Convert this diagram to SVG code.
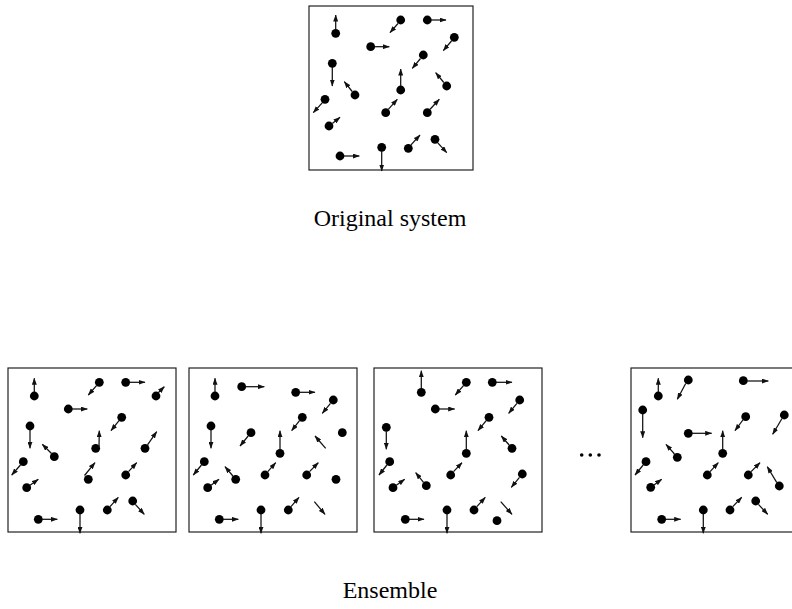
<svg xmlns="http://www.w3.org/2000/svg" width="792" height="609" viewBox="0 0 792 609">
<style>
.box{fill:none;stroke:#222;stroke-width:1.2}
.p{fill:#000}
.v{stroke:#111;stroke-width:1.25;fill:none;marker-end:url(#ah)}
.cap{font-family:"Liberation Serif","Times New Roman",serif;font-size:24px;fill:#000;text-anchor:middle}
</style>
<defs>
<marker id="ah" viewBox="0 0 7 5" markerWidth="7" markerHeight="5" refX="6.5" refY="2.5" orient="auto" markerUnits="userSpaceOnUse">
<path d="M0,0 L7,2.5 L0,5 z" fill="#111"/>
</marker>
</defs>
<rect width="792" height="609" fill="#fff"/>

<g id="original">
<rect class="box" x="309" y="6" width="164" height="164"/>
<g class="particles">
<circle class="p" cx="335.7" cy="33.3" r="4.4"/><line class="v" x1="335.7" y1="29" x2="335.7" y2="15"/>
<circle class="p" cx="400.7" cy="20" r="4.4"/><line class="v" x1="398" y1="23.5" x2="390" y2="32.7"/>
<circle class="p" cx="427.3" cy="20" r="4.4"/><line class="v" x1="431" y1="20" x2="446" y2="20"/>
<circle class="p" cx="454.3" cy="37.3" r="4.4"/><line class="v" x1="451.5" y1="41" x2="443.3" y2="50.7"/>
<circle class="p" cx="370.7" cy="46.7" r="4.4"/><line class="v" x1="374.5" y1="46.7" x2="389.3" y2="46.7"/>
<circle class="p" cx="423.3" cy="55" r="4.4"/><line class="v" x1="420.5" y1="58.5" x2="412.3" y2="68.3"/>
<circle class="p" cx="332.3" cy="63.3" r="4.4"/><line class="v" x1="332.3" y1="67" x2="332.3" y2="86"/>
<circle class="p" cx="400.7" cy="90" r="4.4"/><line class="v" x1="400.7" y1="86" x2="400.7" y2="69"/>
<circle class="p" cx="446.7" cy="86" r="4.4"/><line class="v" x1="443.8" y1="82.5" x2="435.7" y2="72.7"/>
<circle class="p" cx="355" cy="95" r="4.4"/><line class="v" x1="352.2" y1="91.5" x2="344.3" y2="81.7"/>
<circle class="p" cx="325" cy="99.3" r="4.4"/><line class="v" x1="322.2" y1="102.8" x2="313.3" y2="112.7"/>
<circle class="p" cx="385.7" cy="112.7" r="4.4"/><line class="v" x1="388.5" y1="109.2" x2="397.3" y2="99.3"/>
<circle class="p" cx="427.3" cy="112.7" r="4.4"/><line class="v" x1="430.1" y1="109.2" x2="439.3" y2="99.3"/>
<circle class="p" cx="329" cy="126" r="4.4"/><line class="v" x1="332.3" y1="123.5" x2="340" y2="117.3"/>
<circle class="p" cx="435" cy="139.3" r="4.4"/><line class="v" x1="437.8" y1="142.8" x2="446.7" y2="152.7"/>
<circle class="p" cx="408.3" cy="148.3" r="4.4"/><line class="v" x1="411" y1="144.8" x2="420" y2="135"/>
<circle class="p" cx="340" cy="156" r="4.4"/><line class="v" x1="344" y1="156" x2="359.3" y2="156"/>
<circle class="p" cx="381.7" cy="147.3" r="4.4"/><line class="v" x1="381.7" y1="151" x2="381.7" y2="171"/>
</g>
</g>
<text id="label-original" class="cap" x="390" y="226">Original system</text>

<g id="ensemble-1">
<rect class="box" x="8" y="368" width="168" height="164"/>
<g class="particles">
<circle class="p" cx="34.3" cy="396" r="4.4"/><line class="v" x1="34.3" y1="392" x2="34.3" y2="378.3"/>
<circle class="p" cx="99.3" cy="382.3" r="4.4"/><line class="v" x1="96.5" y1="385.7" x2="88.3" y2="395"/>
<circle class="p" cx="125.7" cy="382.3" r="4.4"/><line class="v" x1="129.5" y1="382.3" x2="145" y2="382.3"/>
<circle class="p" cx="156" cy="396" r="4.4"/><line class="v" x1="158" y1="393" x2="164.3" y2="386.7"/>
<circle class="p" cx="68.3" cy="409" r="4.4"/><line class="v" x1="72" y1="409" x2="87.3" y2="409"/>
<circle class="p" cx="121.7" cy="417.3" r="4.4"/><line class="v" x1="119" y1="420.7" x2="111" y2="430.7"/>
<circle class="p" cx="30" cy="426" r="4.4"/><line class="v" x1="30" y1="430" x2="30" y2="448.3"/>
<circle class="p" cx="95.7" cy="448.3" r="4.4"/><line class="v" x1="99" y1="448" x2="99.3" y2="430.7"/>
<circle class="p" cx="145" cy="448.3" r="4.4"/><line class="v" x1="147.5" y1="444.8" x2="156.7" y2="431.7"/>
<circle class="p" cx="54.3" cy="456.7" r="4.4"/><line class="v" x1="51.5" y1="453.5" x2="42.3" y2="444.3"/>
<circle class="p" cx="23.3" cy="461.7" r="4.4"/><line class="v" x1="20.5" y1="465" x2="11.7" y2="475"/>
<circle class="p" cx="88.3" cy="479.3" r="4.4"/><line class="v" x1="84.5" y1="475.5" x2="95" y2="462.7"/>
<circle class="p" cx="125.7" cy="475" r="4.4"/><line class="v" x1="128.5" y1="471.6" x2="136.7" y2="462.7"/>
<circle class="p" cx="26.7" cy="487.7" r="4.4"/><line class="v" x1="30" y1="485.3" x2="38.3" y2="479.3"/>
<circle class="p" cx="132.7" cy="501" r="4.4"/><line class="v" x1="135.3" y1="504.3" x2="144.3" y2="514.3"/>
<circle class="p" cx="107.3" cy="510" r="4.4"/><line class="v" x1="110" y1="506.6" x2="118.3" y2="497.3"/>
<circle class="p" cx="38.3" cy="519.3" r="4.4"/><line class="v" x1="42" y1="519.3" x2="57.3" y2="519.3"/>
<circle class="p" cx="80" cy="510" r="4.4"/><line class="v" x1="80" y1="514" x2="80" y2="533.3"/>
</g>
</g>

<g id="ensemble-2">
<rect class="box" x="189" y="368" width="168" height="164"/>
<g class="particles">
<circle class="p" cx="215" cy="396" r="4.4"/><line class="v" x1="215" y1="392" x2="215" y2="378.3"/>
<circle class="p" cx="241.7" cy="386.7" r="4.4"/><line class="v" x1="245.5" y1="386.7" x2="264.3" y2="386.7"/>
<circle class="p" cx="295.7" cy="392.3" r="4.4"/><line class="v" x1="299.5" y1="392.3" x2="315" y2="392.3"/>
<circle class="p" cx="333.3" cy="400" r="4.4"/><line class="v" x1="330.5" y1="403.4" x2="322.3" y2="413.3"/>
<circle class="p" cx="302.3" cy="417.3" r="4.4"/><line class="v" x1="299.5" y1="420.7" x2="291.7" y2="430.7"/>
<circle class="p" cx="211" cy="426" r="4.4"/><line class="v" x1="211" y1="430" x2="211" y2="448.3"/>
<circle class="p" cx="251" cy="432.7" r="4.4"/><line class="v" x1="248.2" y1="436" x2="240" y2="446"/>
<circle class="p" cx="342.3" cy="432.7" r="4.4"/>
<line class="v" x1="325.7" y1="448.3" x2="315" y2="436"/>
<circle class="p" cx="280" cy="453.3" r="4.4"/><line class="v" x1="280" y1="449.3" x2="280" y2="430.7"/>
<circle class="p" cx="204.3" cy="461.7" r="4.4"/><line class="v" x1="201.5" y1="465" x2="193.3" y2="475"/>
<circle class="p" cx="235.7" cy="479.3" r="4.4"/><line class="v" x1="232.9" y1="476" x2="225" y2="466.7"/>
<circle class="p" cx="265" cy="475" r="4.4"/><line class="v" x1="267.8" y1="471.6" x2="275.7" y2="462.7"/>
<circle class="p" cx="306.7" cy="475" r="4.4"/><line class="v" x1="309.5" y1="471.6" x2="318.3" y2="462.7"/>
<circle class="p" cx="336" cy="479.3" r="4.4"/>
<circle class="p" cx="207.7" cy="487.7" r="4.4"/><line class="v" x1="211" y1="485.3" x2="219" y2="479.3"/>
<circle class="p" cx="288.3" cy="510" r="4.4"/><line class="v" x1="291" y1="506.6" x2="299" y2="497.3"/>
<line class="v" x1="314.3" y1="501.7" x2="325" y2="514.3"/>
<circle class="p" cx="219.3" cy="519.3" r="4.4"/><line class="v" x1="223" y1="519.3" x2="238.3" y2="519.3"/>
<circle class="p" cx="261" cy="510" r="4.4"/><line class="v" x1="261" y1="514" x2="261" y2="533.3"/>
</g>
</g>

<g id="ensemble-3">
<rect class="box" x="374" y="368" width="168" height="164"/>
<g class="particles">
<circle class="p" cx="421.3" cy="392.3" r="4.4"/><line class="v" x1="421.3" y1="388.3" x2="421.3" y2="370.7"/>
<circle class="p" cx="466.3" cy="382.3" r="4.4"/><line class="v" x1="463.5" y1="385.7" x2="455.3" y2="395"/>
<circle class="p" cx="492.3" cy="382.3" r="4.4"/><line class="v" x1="496" y1="382.3" x2="512" y2="382.3"/>
<circle class="p" cx="435.3" cy="409" r="4.4"/><line class="v" x1="439" y1="409" x2="454.7" y2="409"/>
<circle class="p" cx="519.7" cy="400" r="4.4"/><line class="v" x1="516.9" y1="403.4" x2="508.7" y2="413.3"/>
<circle class="p" cx="489" cy="417.3" r="4.4"/><line class="v" x1="486.2" y1="420.7" x2="478" y2="430.7"/>
<circle class="p" cx="386.3" cy="427.3" r="4.4"/><line class="v" x1="386.3" y1="431.3" x2="386.3" y2="449.3"/>
<circle class="p" cx="512" cy="448.3" r="4.4"/><line class="v" x1="509.2" y1="445" x2="501.3" y2="436"/>
<circle class="p" cx="466.3" cy="453.3" r="4.4"/><line class="v" x1="466.3" y1="449.3" x2="466.3" y2="430.7"/>
<circle class="p" cx="389.7" cy="461.7" r="4.4"/><line class="v" x1="386.9" y1="465" x2="379" y2="475"/>
<circle class="p" cx="450.7" cy="475" r="4.4"/><line class="v" x1="453.5" y1="471.6" x2="462" y2="462.7"/>
<circle class="p" cx="522.3" cy="474" r="4.4"/><line class="v" x1="519.5" y1="477.4" x2="511.3" y2="487.3"/>
<circle class="p" cx="393" cy="487.7" r="4.4"/><line class="v" x1="396.3" y1="485.3" x2="404.7" y2="479.3"/>
<circle class="p" cx="426.3" cy="485.7" r="4.4"/><line class="v" x1="423.5" y1="482.4" x2="415.7" y2="472.7"/>
<circle class="p" cx="474" cy="510" r="4.4"/><line class="v" x1="476.8" y1="506.6" x2="485.3" y2="497.3"/>
<line class="v" x1="500.7" y1="501.7" x2="512" y2="514.3"/>
<circle class="p" cx="497" cy="520.7" r="4.4"/>
<circle class="p" cx="405.3" cy="519.3" r="4.4"/><line class="v" x1="409" y1="519.3" x2="424" y2="519.3"/>
<circle class="p" cx="447" cy="510" r="4.4"/><line class="v" x1="447" y1="514" x2="447" y2="533.3"/>
</g>
</g>

<g id="ellipsis">
<circle class="p" cx="581.7" cy="455" r="1.8"/>
<circle class="p" cx="590.3" cy="455" r="1.8"/>
<circle class="p" cx="599" cy="455" r="1.8"/>
</g>

<g id="ensemble-n">
<rect class="box" x="631" y="368" width="168" height="164"/>
<g class="particles">
<circle class="p" cx="658.3" cy="396" r="4.4"/><line class="v" x1="658.3" y1="392" x2="658.3" y2="378.3"/>
<circle class="p" cx="688.3" cy="380" r="4.4"/><line class="v" x1="685.7" y1="383.5" x2="677.3" y2="399.3"/>
<circle class="p" cx="743.3" cy="380.7" r="4.4"/><line class="v" x1="747" y1="381" x2="768.3" y2="381"/>
<circle class="p" cx="642.7" cy="410" r="4.4"/><line class="v" x1="642.7" y1="414" x2="642.7" y2="437.7"/>
<circle class="p" cx="745.7" cy="416.7" r="4.4"/><line class="v" x1="742.9" y1="420" x2="735" y2="430.7"/>
<circle class="p" cx="784.3" cy="415" r="4.4"/><line class="v" x1="782" y1="418.5" x2="772.7" y2="434.3"/>
<circle class="p" cx="688.3" cy="433.3" r="4.4"/><line class="v" x1="692" y1="433.3" x2="711.7" y2="433.3"/>
<circle class="p" cx="722.7" cy="453.3" r="4.4"/><line class="v" x1="722.7" y1="449.3" x2="722.7" y2="430.7"/>
<circle class="p" cx="677.3" cy="457.3" r="4.4"/><line class="v" x1="674.5" y1="454" x2="666" y2="444.3"/>
<circle class="p" cx="646" cy="461.7" r="4.4"/><line class="v" x1="643.2" y1="465" x2="635" y2="475"/>
<circle class="p" cx="707.3" cy="475" r="4.4"/><line class="v" x1="710.1" y1="471.6" x2="718.3" y2="462.7"/>
<circle class="p" cx="748.3" cy="475" r="4.4"/><line class="v" x1="751.1" y1="471.6" x2="760" y2="462.7"/>
<circle class="p" cx="779.3" cy="486" r="4.4"/><line class="v" x1="776.8" y1="482.6" x2="767.3" y2="466.7"/>
<circle class="p" cx="650.7" cy="487.3" r="4.4"/><line class="v" x1="654" y1="484.9" x2="661.7" y2="479.3"/>
<circle class="p" cx="730" cy="510" r="4.4"/><line class="v" x1="732.8" y1="506.6" x2="741.7" y2="497.3"/>
<circle class="p" cx="755.7" cy="501" r="4.4"/><line class="v" x1="758.4" y1="504.4" x2="767.7" y2="514.3"/>
<circle class="p" cx="661.7" cy="519.3" r="4.4"/><line class="v" x1="665.5" y1="519.3" x2="680.7" y2="519.3"/>
<circle class="p" cx="703.3" cy="510" r="4.4"/><line class="v" x1="703.3" y1="514" x2="703.3" y2="533.3"/>
</g>
</g>

<text id="label-ensemble" class="cap" x="390" y="598">Ensemble</text>
</svg>
